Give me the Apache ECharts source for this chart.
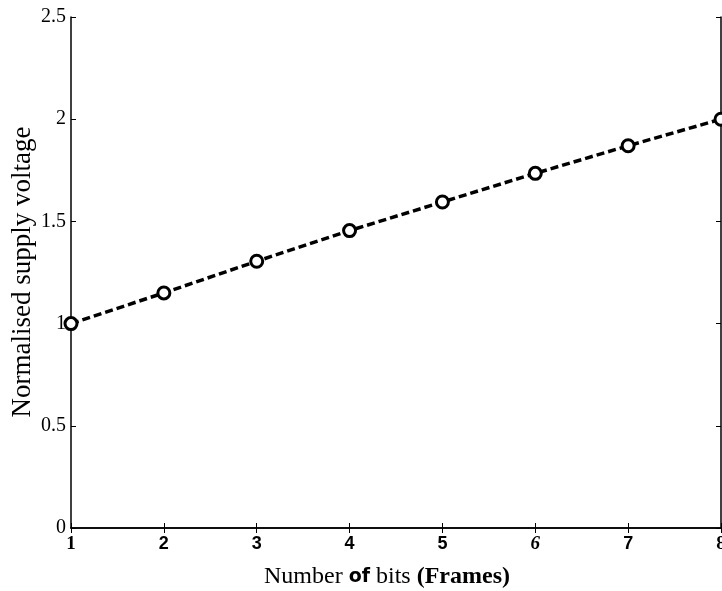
<!DOCTYPE html>
<html>
<head>
<meta charset="utf-8">
<script src="https://cdn.jsdelivr.net/npm/echarts@6/dist/echarts.min.js"></script>
<style>html,body{margin:0;padding:0;background:#fff;}#c{width:722px;height:591px;}</style>
</head>
<body>
<div id="c"></div>
<script>
const bits = [1, 2, 3, 4, 5, 6, 7, 8];
const voltage = [1.0, 1.15, 1.305, 1.455, 1.595, 1.735, 1.87, 2.0];
const yTicks = [0, 0.5, 1, 1.5, 2, 2.5];
const xTitle = 'Number of bits (Frames)';
const yTitle = 'Normalised supply voltage';

const chart = echarts.init(document.getElementById('c'), null, {renderer: 'canvas'});
const serif = '"Liberation Serif", "DejaVu Serif", serif';
const sans = '"Liberation Sans", Arial, sans-serif';
const axisLine = {show: true, lineStyle: {color: '#000', width: 1.5}};
const tick = {show: true, inside: true, length: 5, lineStyle: {color: '#000', width: 1}};
chart.setOption({
  animation: false,
  backgroundColor: '#fff',
  grid: {left: 71, right: 1, top: 17, bottom: 63, containLabel: false, outerBoundsMode: 'none'},
  xAxis: [{
    type: 'value', min: 1, max: 8, interval: 1, position: 'bottom',
    axisLine: axisLine, axisTick: tick, splitLine: {show: false},
    axisLabel: {
      margin: 7, color: '#000', fontFamily: sans, fontWeight: 'bold', fontSize: 18,
      formatter: v => v === 6 ? '{i|6}' : (v === 1 || v === 8 ? '{s|' + v + '}' : String(v)),
      rich: {
        i: {fontStyle: 'italic', fontFamily: serif, fontWeight: 'bold', fontSize: 19, color: '#000'},
        s: {fontFamily: serif, fontWeight: 'bold', fontSize: 19, color: '#000'}
      }
    }
  }, {
    type: 'value', min: 1, max: 8, interval: 1, position: 'top',
    axisLine: axisLine, axisTick: tick, axisLabel: {show: false}, splitLine: {show: false}
  }],
  yAxis: [{
    type: 'value', min: 0, max: 2.5, interval: 0.5, position: 'left',
    axisLine: axisLine, axisTick: tick, splitLine: {show: false},
    axisLabel: {margin: 5, color: '#000', fontFamily: serif, fontSize: 20, formatter: v => String(v)}
  }, {
    type: 'value', min: 0, max: 2.5, interval: 0.5, position: 'right',
    axisLine: axisLine, axisTick: tick, axisLabel: {show: false}, splitLine: {show: false}
  }],
  graphic: [{
    type: 'text', x: 387, y: 577,
    style: {
      text: '{r|Number }{b|of}{r| bits }{bs|(Frames)}',
      align: 'center', verticalAlign: 'middle',
      rich: {
        r: {fontFamily: serif, fontSize: 24, fill: '#000'},
        b: {fontFamily: '"DejaVu Sans", sans-serif', fontWeight: 'bold', fontSize: 19, fill: '#000'},
        bs: {fontFamily: serif, fontWeight: 'bold', fontSize: 24, fill: '#000'}
      }
    }
  }, {
    type: 'text', rotation: Math.PI / 2, x: 23, y: 272,
    style: {text: yTitle, fontFamily: serif, fontSize: 27, fill: '#000', align: 'center', verticalAlign: 'middle'}
  }],
  series: [{
    type: 'line',
    data: bits.map((b, i) => [b, voltage[i]]),
    symbol: 'circle', symbolSize: 12,
    itemStyle: {color: '#fff', borderColor: '#000', borderWidth: 3},
    lineStyle: {color: '#000', width: 3.5, type: [8, 4]},
    clip: false
  }]
});
</script>
</body>
</html>
